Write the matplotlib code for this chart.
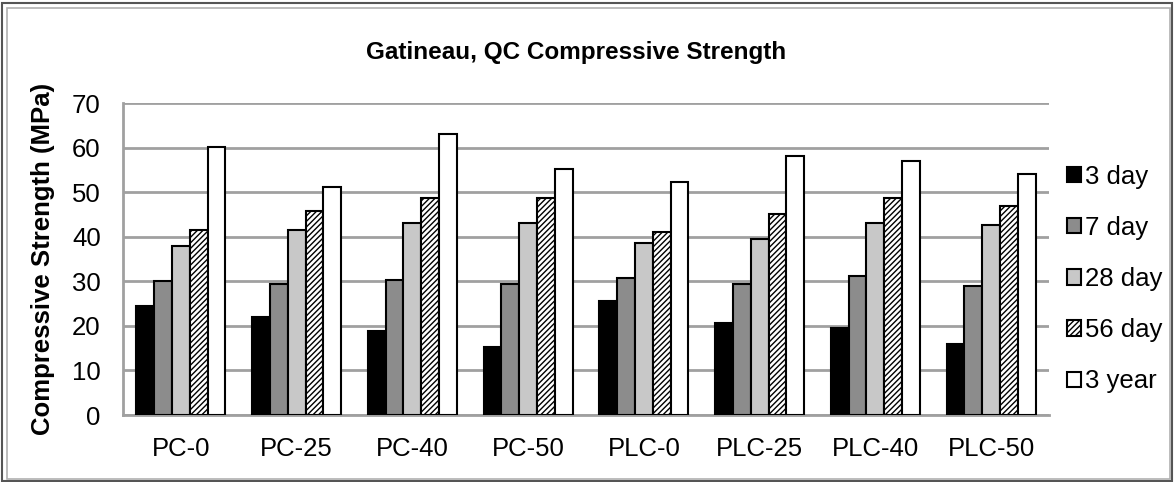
import numpy as np
import matplotlib.pyplot as plt
from matplotlib.patches import Rectangle

plt.rcParams['font.family'] = ['Liberation Sans', 'DejaVu Sans']
plt.rcParams['hatch.linewidth'] = 1.0

# Mixes and curing ages
mixes = ['PC-0', 'PC-25', 'PC-40', 'PC-50', 'PLC-0', 'PLC-25', 'PLC-40', 'PLC-50']
ages = ['3 day', '7 day', '28 day', '56 day', '3 year']

# Compressive strength (MPa)
day3 = [24.4, 22.0, 18.9, 15.3, 25.6, 20.6, 19.6, 15.9]
day7 = [30.1, 29.5, 30.3, 29.5, 30.7, 29.5, 31.3, 28.9]
day28 = [37.9, 41.5, 43.2, 43.2, 38.6, 39.6, 43.2, 42.7]
day56 = [41.5, 45.8, 48.8, 48.8, 41.0, 45.1, 48.8, 47.0]
year3 = [60.1, 51.1, 63.0, 55.3, 52.2, 58.2, 57.1, 54.1]

series = [day3, day7, day28, day56, year3]
fills = ['black', '#8c8c8c', '#c8c8c8', 'white', 'white']
hatches = [None, None, None, '//////', None]

fig = plt.figure(figsize=(11.74, 4.82), dpi=100)
ax = fig.add_axes([0.1048, 0.139, 0.7887, 0.647])

x = np.arange(len(mixes))
width = 0.154
for i, vals in enumerate(series):
    ax.bar(x + (i - 2) * width, vals, width, color=fills[i], edgecolor='black',
           linewidth=1.5, hatch=hatches[i], label=ages[i], zorder=3)

ax.set_xlim(-0.5, len(mixes) - 0.5)
ax.set_ylim(0, 70)
ax.set_yticks(range(0, 71, 10))
ax.set_xticks(x)
ax.set_xticklabels(mixes)
ax.grid(axis='y', color='#a0a0a0', linewidth=2, zorder=0)
ax.tick_params(length=0, labelsize=18.5, pad=16)
for side in ['top', 'right']:
    ax.spines[side].set_visible(False)
ax.spines['left'].set_color('#a0a0a0')
ax.spines['left'].set_linewidth(2)
ax.spines['bottom'].set_color('#a0a0a0')
ax.spines['bottom'].set_linewidth(2)

ax.set_ylabel('Compressive Strength (MPa)', fontsize=18.5, fontweight='bold', labelpad=12)
fig.text(0.4906, 0.892, 'Gatineau, QC Compressive Strength', ha='center', va='center',
         fontsize=17.5, fontweight='bold')

fig.legend(loc='upper left', bbox_to_anchor=(0.9, 0.68), frameon=False,
           fontsize=18.5, labelspacing=1.06, handlelength=0.55, handleheight=0.55,
           handletextpad=0.15, borderaxespad=0)

# chart frame
fig.patches.append(Rectangle((0.0015, 0.003), 0.997, 0.991, transform=fig.transFigure,
                             fill=False, edgecolor='#555555', linewidth=1.5))
fig.patches.append(Rectangle((0.006, 0.006), 0.991, 0.978, transform=fig.transFigure,
                             fill=False, edgecolor='#b0b0b0', linewidth=1.2))

fig.savefig('out.png', dpi=100)
